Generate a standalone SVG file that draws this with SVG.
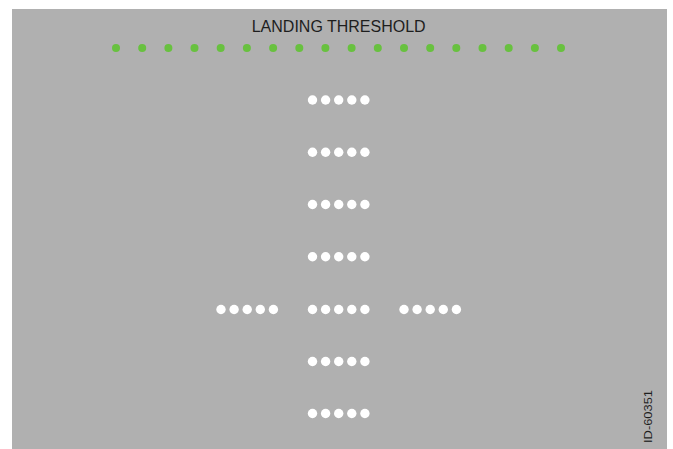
<svg xmlns="http://www.w3.org/2000/svg" width="673" height="449" viewBox="0 0 673 449">
<defs>
<style>
.bg{fill:#b0b0b0}
.g{fill:#68c13f}
.w{fill:#ffffff}
.t{font-family:"Liberation Sans",Arial,sans-serif;fill:#1e1e1e}
</style>
<circle id="gd" class="g" cx="0" cy="0" r="4"/>
<g id="row">
<circle class="w" cx="0" cy="0" r="4.7"/>
<circle class="w" cx="13.1" cy="0" r="4.7"/>
<circle class="w" cx="26.2" cy="0" r="4.7"/>
<circle class="w" cx="39.3" cy="0" r="4.7"/>
<circle class="w" cx="52.4" cy="0" r="4.7"/>
</g>
</defs>
<rect class="bg" x="12" y="9" width="655" height="440"/>
<g id="title"><text class="t" x="338.7" y="31.6" font-size="16" text-anchor="middle">LANDING THRESHOLD</text></g>
<g id="threshold-lights">
<use href="#gd" x="116" y="48"/>
<use href="#gd" x="142.2" y="48"/>
<use href="#gd" x="168.4" y="48"/>
<use href="#gd" x="194.5" y="48"/>
<use href="#gd" x="220.7" y="48"/>
<use href="#gd" x="246.9" y="48"/>
<use href="#gd" x="273.1" y="48"/>
<use href="#gd" x="299.3" y="48"/>
<use href="#gd" x="325.4" y="48"/>
<use href="#gd" x="351.6" y="48"/>
<use href="#gd" x="377.8" y="48"/>
<use href="#gd" x="404" y="48"/>
<use href="#gd" x="430.2" y="48"/>
<use href="#gd" x="456.3" y="48"/>
<use href="#gd" x="482.5" y="48"/>
<use href="#gd" x="508.7" y="48"/>
<use href="#gd" x="534.9" y="48"/>
<use href="#gd" x="561" y="48"/>
</g>
<g id="centerline">
<use href="#row" x="312.5" y="100"/>
<use href="#row" x="312.5" y="152.3"/>
<use href="#row" x="312.5" y="204.5"/>
<use href="#row" x="312.5" y="256.8"/>
<use href="#row" x="312.5" y="309.5"/>
<use href="#row" x="312.5" y="361.5"/>
<use href="#row" x="312.5" y="413.5"/>
</g>
<g id="crossbar">
<use href="#row" x="221" y="309.5"/>
<use href="#row" x="404" y="309.5"/>
</g>
<g id="id-label"><text class="t" transform="translate(652,443) rotate(-90)" font-size="10" textLength="53" lengthAdjust="spacingAndGlyphs">ID-60351</text></g>
</svg>
